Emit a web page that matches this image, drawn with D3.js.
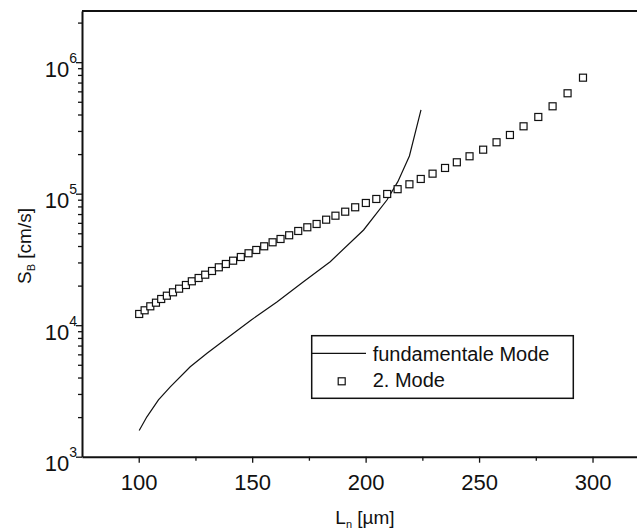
<!DOCTYPE html>
<html>
<head>
<meta charset="utf-8">
<script src="https://cdn.jsdelivr.net/npm/d3@7"></script>
<style>
  body { margin: 0; background: #fff; }
  svg { display: block; font-family: "Liberation Sans", Arial, sans-serif; }
</style>
</head>
<body>
<svg id="chart" width="637" height="530"></svg>
<script>
// fundamentale Mode (line)
const fundL = [100.2, 103.6, 108.7, 113.9, 122.7, 130.1, 137.4, 149.6, 160.9, 172.6, 184.4, 199.1, 209.4, 214.2, 219.3, 224.4];
const fundS = [1580, 2010, 2700, 3400, 4830, 6110, 7620, 10960, 15010, 21420, 30410, 52970, 89540, 123400, 193600, 433400];

// 2. Mode (squares)
const mode2L = [100.2, 102.6, 105.1, 107.6, 109.9, 112.4, 115.1, 117.8, 120.8, 123.4,
                126.4, 129.3, 132.3, 135.3, 138.4, 141.6, 145.0, 148.4, 151.8, 155.3,
                159.0, 162.5, 166.3, 170.3, 174.3, 178.4, 182.6, 186.7, 191.0, 195.4,
                200.1, 204.7, 209.5, 214.1, 219.3, 224.3, 229.5, 235.0, 240.2, 245.8,
                251.8, 257.7, 263.6, 269.6, 276.1, 282.4, 289.0, 295.8];
const mode2S = [12170, 12980, 13920, 14830, 15820, 16760, 17790, 18950, 20210, 21570,
                22850, 24210, 25830, 27560, 29200, 30940, 33000, 35230, 37320, 39810,
                42700, 45240, 48290, 52040, 55530, 58830, 63430, 68020, 72960, 78820,
                84990, 91150, 99470, 108200, 117900, 129400, 142000, 156900, 173300, 192500,
                216100, 246000, 279500, 325400, 383100, 461900, 580100, 762300];

const xMajor = [100, 150, 200, 250, 300];
const xMinor = [125, 175, 225, 275];
const yMajor = [1e3, 1e4, 1e5, 1e6];
const legendLabels = ["fundamentale Mode", "2. Mode"];

const svg = d3.select("#chart");
const plotLeft = 82, plotTop = 11, plotBottom = 456.7;

const x = d3.scaleLinear().domain([75, 325]).range([plotLeft, plotLeft + 250 * 2.269]);
const y = d3.scaleLog().domain([1000, 2.45e6]).range([plotBottom, plotTop]);

// minor ticks for the log axis
const yMinor = [];
[1e3, 1e4, 1e5, 1e6].forEach(p => {
  for (let k = 2; k <= 9; k++) if (p * k <= y.domain()[1]) yMinor.push(p * k);
});

// frame (top border; right border is beyond the picture)
svg.append("line")
  .attr("x1", plotLeft).attr("x2", 700)
  .attr("y1", plotTop).attr("y2", plotTop)
  .attr("stroke", "#111").attr("stroke-width", 2);

// x axis
svg.append("g")
  .attr("transform", `translate(0,${plotBottom})`)
  .call(d3.axisBottom(x).tickValues(xMinor).tickSize(4).tickSizeOuter(0).tickFormat(""))
  .call(g => g.select(".domain").remove())
  .call(g => g.selectAll("line").attr("stroke", "#111").attr("stroke-width", 1.3));

const gx = svg.append("g")
  .attr("transform", `translate(0,${plotBottom})`)
  .call(d3.axisBottom(x).tickValues(xMajor).tickSize(6).tickSizeOuter(0).tickPadding(12));
gx.select(".domain").attr("stroke", "#111").attr("stroke-width", 2);
gx.selectAll("line").attr("stroke", "#111").attr("stroke-width", 1.3);
gx.selectAll("text").attr("font-size", 22).attr("fill", "#111").attr("font-family", "Liberation Sans, Arial");

// y axis
svg.append("g")
  .attr("transform", `translate(${plotLeft},0)`)
  .call(d3.axisLeft(y).tickValues(yMinor).tickSize(4).tickSizeOuter(0).tickFormat(""))
  .call(g => g.select(".domain").remove())
  .call(g => g.selectAll("line").attr("stroke", "#111").attr("stroke-width", 1.3));

const gy = svg.append("g")
  .attr("transform", `translate(${plotLeft},0)`)
  .call(d3.axisLeft(y).tickValues(yMajor).tickSize(6).tickSizeOuter(0).tickFormat(""));
gy.select(".domain").attr("stroke", "#111").attr("stroke-width", 2);
gy.selectAll("line").attr("stroke", "#111").attr("stroke-width", 1.3);
gy.selectAll(".tick").each(function (d) {
  const t = d3.select(this).append("text")
    .attr("x", -5).attr("y", 14)
    .attr("text-anchor", "end")
    .attr("fill", "#111")
    .attr("font-family", "Liberation Sans, Arial");
  t.append("tspan").attr("font-size", 22).text("10");
  t.append("tspan").attr("font-size", 14).attr("dy", -14).text(Math.round(Math.log10(d)));
});

// axis titles
const xt = svg.append("text")
  .attr("x", 365).attr("y", 524)
  .attr("text-anchor", "middle")
  .attr("font-size", 19).attr("fill", "#111");
xt.append("tspan").text("L");
xt.append("tspan").attr("font-size", 11).attr("dy", 4).text("n");
xt.append("tspan").attr("dy", -4).text(" [µm]");

const yt = svg.append("text")
  .attr("transform", "translate(31,246) rotate(-90)")
  .attr("text-anchor", "middle")
  .attr("font-size", 19).attr("fill", "#111");
yt.append("tspan").text("S");
yt.append("tspan").attr("font-size", 11).attr("dy", 4).text("B");
yt.append("tspan").attr("dy", -4).text(" [cm/s]");

// fundamental mode line
const line = d3.line().x(d => x(d[0])).y(d => y(d[1]));
svg.append("path")
  .datum(fundL.map((l, i) => [l, fundS[i]]))
  .attr("d", line)
  .attr("fill", "none")
  .attr("stroke", "#111")
  .attr("stroke-width", 1.2);

// 2. Mode squares
const sq = 7;
svg.append("g").selectAll("rect")
  .data(mode2L.map((l, i) => [l, mode2S[i]]))
  .join("rect")
  .attr("x", d => x(d[0]) - sq / 2)
  .attr("y", d => y(d[1]) - sq / 2)
  .attr("width", sq).attr("height", sq)
  .attr("fill", "#fff")
  .attr("stroke", "#111")
  .attr("stroke-width", 1.2);

// legend
const lg = svg.append("g");
lg.append("rect")
  .attr("x", 311.7).attr("y", 335.7)
  .attr("width", 261.6).attr("height", 62.6)
  .attr("fill", "#fff").attr("stroke", "#111").attr("stroke-width", 1.5);
lg.append("line")
  .attr("x1", 312).attr("x2", 366)
  .attr("y1", 353.3).attr("y2", 353.3)
  .attr("stroke", "#111").attr("stroke-width", 1.2);
lg.append("rect")
  .attr("x", 341.7 - 3.5).attr("y", 381.3 - 3.5)
  .attr("width", 7).attr("height", 7)
  .attr("fill", "#fff").attr("stroke", "#111").attr("stroke-width", 1.2);
lg.selectAll("text.leg")
  .data(legendLabels)
  .join("text")
  .attr("class", "leg")
  .attr("x", 372.7)
  .attr("y", (d, i) => 360.7 + i * 26)
  .attr("font-size", 20).attr("fill", "#111")
  .text(d => d);
</script>
</body>
</html>
